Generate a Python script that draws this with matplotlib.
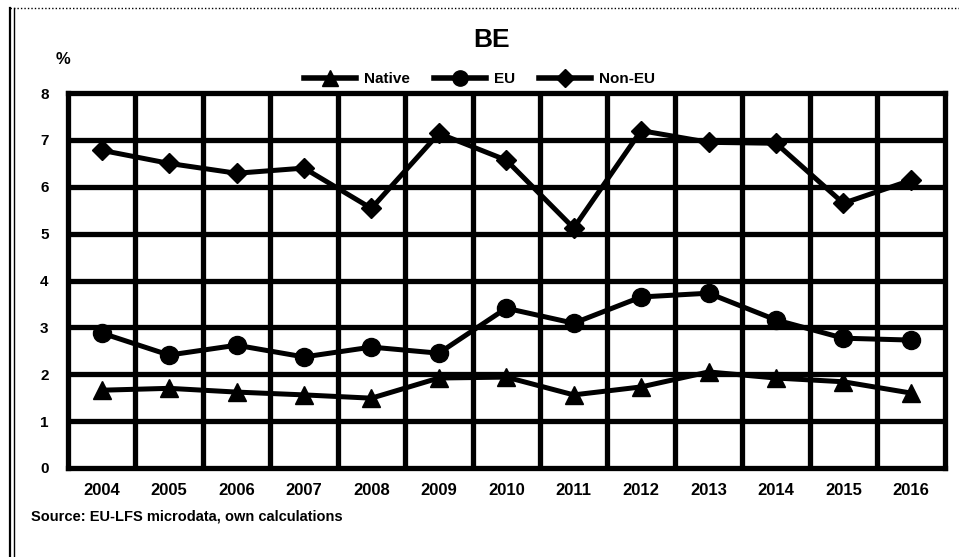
import matplotlib
matplotlib.use("Agg")
import matplotlib.pyplot as plt
from matplotlib.lines import Line2D

plt.rcParams['font.family'] = ['Liberation Sans', 'DejaVu Sans']

years = ["2004", "2005", "2006", "2007", "2008", "2009", "2010",
         "2011", "2012", "2013", "2014", "2015", "2016"]
native = [1.66, 1.70, 1.62, 1.56, 1.49, 1.92, 1.94, 1.56, 1.73, 2.05, 1.92, 1.84, 1.60]
eu = [2.88, 2.41, 2.62, 2.37, 2.58, 2.45, 3.41, 3.09, 3.65, 3.73, 3.16, 2.77, 2.73]
non_eu = [6.78, 6.50, 6.29, 6.40, 5.54, 7.14, 6.57, 5.12, 7.20, 6.95, 6.93, 5.65, 6.14]
y_ticks = [0, 1, 2, 3, 4, 5, 6, 7, 8]

fig = plt.figure(figsize=(9.59, 5.57), dpi=100)
ax = fig.add_axes([0.0709, 0.1598, 0.914, 0.673])

x = list(range(len(years)))
ax.set_xlim(-0.5, len(years) - 0.5)
ax.set_ylim(0, 8)

# heavy black grid: horizontal at each integer, vertical at category boundaries
for v in y_ticks[1:-1]:
    ax.axhline(v, color='black', lw=3.8, zorder=1)
for b in range(1, len(years)):
    ax.axvline(b - 0.5, color='black', lw=3.8, zorder=1)

line_kw = dict(color='black', lw=3.6, ms=13, zorder=3)
ax.plot(x, native, marker='^', **line_kw)
ax.plot(x, eu, marker='o', **line_kw)
ax.plot(x, non_eu, marker='D', **dict(line_kw, ms=10))

for s in ax.spines.values():
    s.set_linewidth(3.8)
    s.set_color('black')

ax.set_xticks(x)
ax.set_xticklabels(years, fontsize=12, fontweight='heavy')
ax.set_yticks(y_ticks)
ax.set_yticklabels([str(v) for v in y_ticks], fontsize=11, fontweight='heavy')
ax.tick_params(length=0, pad=14)
ax.tick_params(axis='x', pad=11)

fig.text(0.513, 0.928, "BE", ha='center', va='center', fontsize=19, fontweight='heavy')
fig.text(0.066, 0.893, "%", ha='center', va='center', fontsize=12, fontweight='heavy')

handles = [
    Line2D([], [], color='black', lw=4, marker='^', ms=11, label='Native'),
    Line2D([], [], color='black', lw=4, marker='o', ms=11, label='EU'),
    Line2D([], [], color='black', lw=4, marker='D', ms=9, label='Non-EU'),
]
fig.legend(handles=handles, loc='center', bbox_to_anchor=(0.5, 0.858), ncol=3,
           frameon=False, prop={'weight': 'heavy', 'size': 11},
           handlelength=3.4, columnspacing=1.6, handletextpad=0.5)

fig.text(0.032, 0.072, "Source: EU-LFS microdata, own calculations",
         ha='left', va='center', fontsize=10.5, fontweight='heavy')

# outer frame: double rule on the left, thin dotted rule along the top
fig.add_artist(Line2D([0.010, 0.010], [0, 0.985], transform=fig.transFigure,
                      color='black', lw=1.6))
fig.add_artist(Line2D([0.015, 0.015], [0, 0.985], transform=fig.transFigure,
                      color='black', lw=1.0))
fig.add_artist(Line2D([0.010, 1.0], [0.985, 0.985], transform=fig.transFigure,
                      color='black', lw=1.0, ls=(0, (1, 1.5))))

fig.savefig("out.png", dpi=100)
